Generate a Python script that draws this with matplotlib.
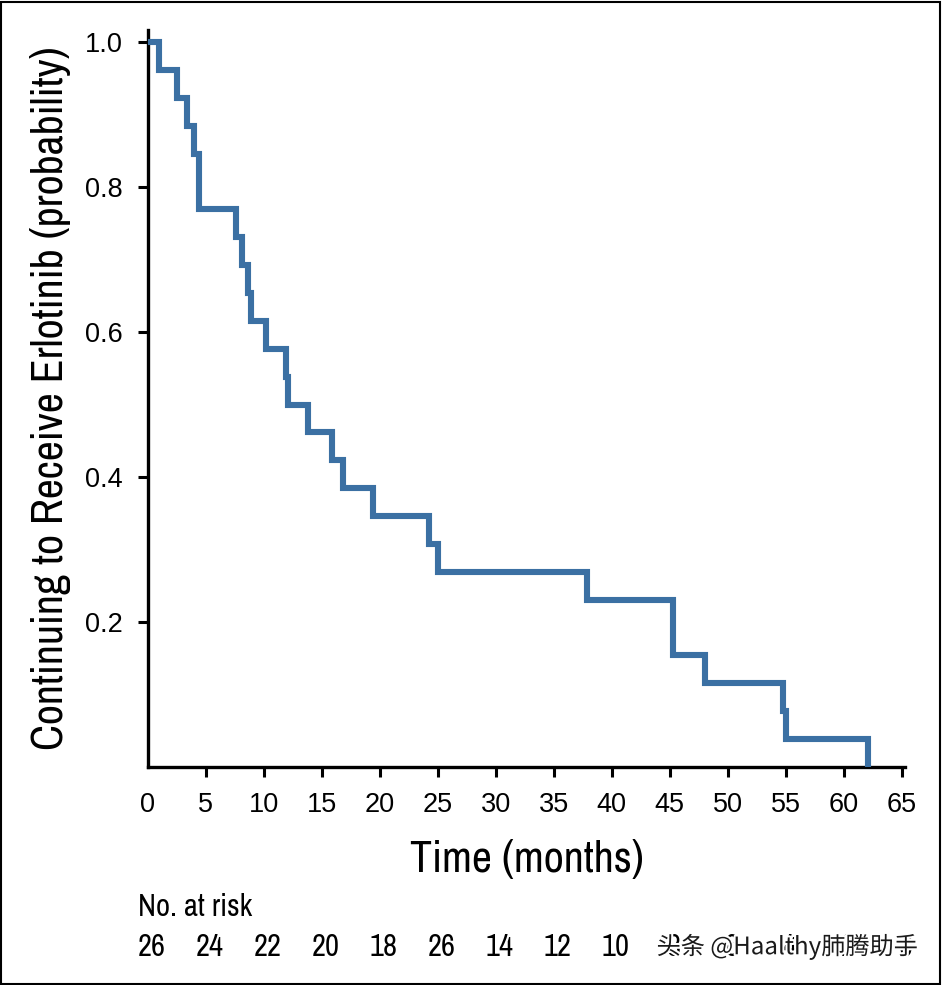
import numpy as np
import matplotlib
matplotlib.use("Agg")
import matplotlib.pyplot as plt
import matplotlib.patheffects as pe
from matplotlib.patches import Rectangle

# Kaplan-Meier steps (months, patients still on drug of 26)
times = [0, 1.0, 2.5, 3.4, 4.0, 4.4, 7.6, 8.1, 8.6, 8.85, 10.2, 11.9, 12.1,
         13.8, 15.9, 16.8, 19.4, 24.2, 25.0, 37.9, 45.3, 48.0, 54.8, 55.0, 62.1]
remaining = [26, 25, 24, 23, 22, 20, 19, 18, 17, 16, 15, 14, 13,
             12, 11, 10, 9, 8, 7, 6, 4, 3, 2, 1, 0]
n_start = 26

x_ticks = list(range(0, 70, 5))
y_ticks = [0.2, 0.4, 0.6, 0.8, 1.0]
at_risk = [26, 24, 22, 20, 18, 26, 14, 12, 10, 8, 6, 4, 2, 0]

surv = np.array(remaining) / n_start

narrow = ["Archivo Narrow", "DejaVu Sans"]
plt.rcParams["font.family"] = ["Liberation Sans", "DejaVu Sans"]

fig = plt.figure(figsize=(9.42, 9.85), dpi=100)
ax = fig.add_axes([0.157, 0.2213, 0.804, 0.7482])

ax.step(times, surv, where="post", color="#3b70a3", linewidth=4.4,
        solid_joinstyle="miter", zorder=3)

ax.set_xlim(0, 65.3)
ax.set_ylim(0, 1.0166)
ax.set_xticks(x_ticks)
ax.set_yticks(y_ticks)
ax.set_yticklabels([f"{v:.1f}" for v in y_ticks])
ax.tick_params(axis="both", direction="out", length=7, width=2.2,
               labelsize=19.5, color="black", pad=11)
ax.xaxis.get_major_ticks()[0].tick1line.set_visible(False)

for side in ["top", "right"]:
    ax.spines[side].set_visible(False)
for side in ["left", "bottom"]:
    ax.spines[side].set_linewidth(2.4)

ax.set_xlabel("Time (months)", fontsize=31.5, family=narrow, labelpad=16)
ax.set_ylabel("Continuing to Receive Erlotinib (probability)", fontsize=31.5,
              family=narrow, labelpad=10)

# number at risk table
trans = matplotlib.transforms.blended_transform_factory(ax.transData, fig.transFigure)
fig.text(0.1465, 0.079, "No. at risk", fontsize=22, family=narrow,
         ha="left", va="center")
for t, n in zip(x_ticks, at_risk):
    ax.text(t + 0.3, 0.0386, str(n), transform=trans, fontsize=22,
            family=narrow, ha="center", va="center", clip_on=False)

# watermark
fig.text(0.697, 0.0386, "头条 @Haalthy肺腾助手", fontsize=17.4,
         family=["Noto Sans CJK SC", "DejaVu Sans"], color="#1a1a1a",
         ha="left", va="center",
         path_effects=[pe.withStroke(linewidth=3, foreground="white")])

# thin frame around the whole picture
fig.patches.append(Rectangle((0.001, 0.001), 0.997, 0.997, transform=fig.transFigure,
                             fill=False, edgecolor="black", linewidth=1.5))

fig.savefig("out.png", dpi=100)
